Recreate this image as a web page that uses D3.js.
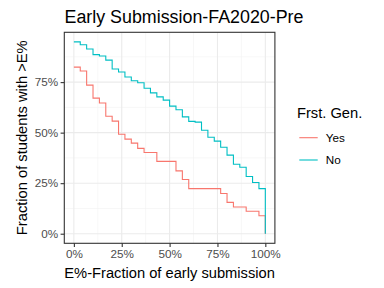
<!DOCTYPE html>
<html>
<head>
<meta charset="utf-8">
<script src="https://cdn.jsdelivr.net/npm/d3@7"></script>
<style>
  body { margin: 0; background: #fff; }
  text { font-family: "Liberation Sans", Arial, sans-serif; }
</style>
</head>
<body>
<svg width="384" height="288"></svg>
<script>
// Datos: fracción de envío anticipado (pasos de 1/30)
const steps = d3.range(31).map(k => k / 30);

const yesValues = [0.824, 0.805, 0.735, 0.671, 0.647, 0.581, 0.557, 0.492, 0.468, 0.448,
  0.422, 0.402, 0.402, 0.358, 0.358, 0.358, 0.311, 0.268, 0.223, 0.223,
  0.223, 0.223, 0.223, 0.199, 0.155, 0.132, 0.132, 0.111, 0.111, 0.089, 0];

const noValues = [0.949, 0.935, 0.914, 0.886, 0.879, 0.859, 0.815, 0.800, 0.775, 0.757,
  0.747, 0.720, 0.697, 0.677, 0.661, 0.631, 0.613, 0.578, 0.556, 0.552,
  0.512, 0.477, 0.458, 0.428, 0.389, 0.344, 0.329, 0.283, 0.253, 0.223, 0];

const groups = ["Yes", "No"];
const colors = ["#F8766D", "#00BFC4"];
const ticks = [0, 0.25, 0.5, 0.75, 1];
const xTickLabels = ["0%", "25%", "50%", "75%", "100%"];
const yTicks = [0, 0.25, 0.5, 0.75];
const yTickLabels = ["0%", "25%", "50%", "75%"];

const series = [
  { name: groups[0], color: colors[0], values: yesValues },
  { name: groups[1], color: colors[1], values: noValues }
];

const svg = d3.select("svg");

// Panel
const pLeft = 64.3, pRight = 274.9, pTop = 32.3, pBottom = 243.3;
const yMax = d3.max(noValues);

const x = d3.scaleLinear().domain([-0.05, 1.05]).range([pLeft, pRight]);
const y = d3.scaleLinear().domain([-yMax * 0.05, yMax * 1.05]).range([pBottom, pTop]);

// Rejilla menor y mayor
const grid = svg.append("g");
const minorX = [0.125, 0.375, 0.625, 0.875];
const minorY = [0.125, 0.375, 0.625, 0.875];

grid.selectAll(".mx").data(minorX).enter().append("line")
  .attr("x1", d => x(d)).attr("x2", d => x(d))
  .attr("y1", pTop).attr("y2", pBottom)
  .attr("stroke", "#F2F2F2").attr("stroke-width", 0.6);

grid.selectAll(".my").data(minorY).enter().append("line")
  .attr("x1", pLeft).attr("x2", pRight)
  .attr("y1", d => y(d)).attr("y2", d => y(d))
  .attr("stroke", "#F2F2F2").attr("stroke-width", 0.6);

grid.selectAll(".gx").data(ticks).enter().append("line")
  .attr("x1", d => x(d)).attr("x2", d => x(d))
  .attr("y1", pTop).attr("y2", pBottom)
  .attr("stroke", "#EBEBEB").attr("stroke-width", 1.1);

grid.selectAll(".gy").data(yTicks).enter().append("line")
  .attr("x1", pLeft).attr("x2", pRight)
  .attr("y1", d => y(d)).attr("y2", d => y(d))
  .attr("stroke", "#EBEBEB").attr("stroke-width", 1.1);

// Líneas escalonadas
const line = d3.line()
  .x((d, i) => x(steps[i]))
  .y(d => y(d))
  .curve(d3.curveStepAfter);

svg.append("g")
  .selectAll("path")
  .data(series)
  .enter().append("path")
  .attr("d", d => line(d.values))
  .attr("fill", "none")
  .attr("stroke", d => d.color)
  .attr("stroke-width", 1.1);

// Borde del panel
svg.append("rect")
  .attr("x", pLeft).attr("y", pTop)
  .attr("width", pRight - pLeft).attr("height", pBottom - pTop)
  .attr("fill", "none").attr("stroke", "#333333").attr("stroke-width", 1.1);

// Ejes
const xAxis = svg.append("g")
  .attr("transform", `translate(0,${pBottom})`)
  .call(d3.axisBottom(x).tickValues(ticks).tickFormat((d, i) => xTickLabels[i]).tickSize(3.7).tickPadding(2.5));

const yAxis = svg.append("g")
  .attr("transform", `translate(${pLeft},0)`)
  .call(d3.axisLeft(y).tickValues(yTicks).tickFormat((d, i) => yTickLabels[i]).tickSize(3.7).tickPadding(2.5));

[xAxis, yAxis].forEach(a => {
  a.select(".domain").remove();
  a.selectAll(".tick line").attr("stroke", "#333333").attr("stroke-width", 1.1);
  a.selectAll(".tick text")
    .attr("fill", "#4D4D4D")
    .style("font-size", "11.7px")
    .style("font-family", "'Liberation Sans', Arial, sans-serif");
});

// Títulos
svg.append("text")
  .attr("x", 64.5).attr("y", 22.7)
  .style("font-size", "17.6px")
  .attr("textLength", 239)
  .attr("lengthAdjust", "spacingAndGlyphs")
  .attr("fill", "#000")
  .text("Early Submission-FA2020-Pre");

svg.append("text")
  .attr("x", (pLeft + pRight) / 2).attr("y", 277.5)
  .attr("text-anchor", "middle")
  .style("font-size", "14.7px")
  .attr("fill", "#000")
  .text("E%-Fraction of early submission");

svg.append("text")
  .attr("transform", `translate(26.5,${(pTop + pBottom) / 2}) rotate(-90)`)
  .attr("text-anchor", "middle")
  .style("font-size", "14.7px")
  .attr("fill", "#000")
  .text("Fraction of students with >E%");

// Leyenda
const legend = svg.append("g");
legend.append("text")
  .attr("x", 297).attr("y", 118.3)
  .style("font-size", "14.7px")
  .attr("fill", "#000")
  .text("Frst. Gen.");

const item = legend.selectAll(".item")
  .data(series)
  .enter().append("g")
  .attr("transform", (d, i) => `translate(0,${137.7 + i * 22.3})`);

item.append("line")
  .attr("x1", 299.3).attr("x2", 317.7)
  .attr("stroke", d => d.color)
  .attr("stroke-width", 1.1);

item.append("text")
  .attr("x", 325.7).attr("y", 4.2)
  .style("font-size", "11.7px")
  .attr("fill", "#000")
  .text(d => d.name);
</script>
</body>
</html>
